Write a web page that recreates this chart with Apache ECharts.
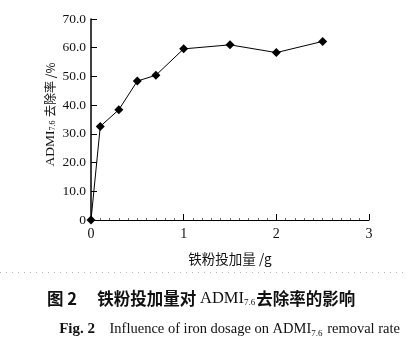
<!DOCTYPE html>
<html>
<head>
<meta charset="utf-8">
<script src="https://cdn.jsdelivr.net/npm/echarts@6/dist/echarts.min.js"></script>
<style>html,body{margin:0;padding:0;background:#fff;}#c{width:408px;height:348px;}</style>
</head>
<body>
<div id="c"></div>
<script>
var dosage = [0, 0.1, 0.3, 0.5, 0.7, 1.0, 1.5, 2.0, 2.5];
var removal = [0, 32.6, 38.4, 48.4, 50.4, 59.6, 61.0, 58.3, 62.2];
var yTicks = ['0', '10.0', '20.0', '30.0', '40.0', '50.0', '60.0', '70.0'];
var xTicks = ['0', '1', '2', '3'];

var serif = '"Liberation Serif","DejaVu Serif",serif';
var cjk = '"Noto Sans CJK SC",sans-serif';
var chart = echarts.init(document.getElementById('c'));
chart.setOption({
  animation: false,
  backgroundColor: '#fff',
  grid: {left: 91, right: 39, top: 19, bottom: 128},
  xAxis: {
    type: 'value', min: 0, max: 3, interval: 1,
    axisLine: {onZero: false, lineStyle: {color: '#000', width: 1}},
    axisTick: {inside: true, length: 6, lineStyle: {color: '#000'}},
    minorTick: {show: true, splitNumber: 10, length: 2, lineStyle: {color: '#666'}},
    splitLine: {show: false},
    axisLabel: {color: '#111', fontFamily: serif, fontSize: 14, margin: 7,
      formatter: function (v) { return xTicks[Math.round(v)]; }},
    name: '铁粉投加量 /g', nameLocation: 'middle', nameGap: 32,
    nameTextStyle: {color: '#111', fontFamily: cjk, fontSize: 13.5}
  },
  yAxis: {
    type: 'value', min: 0, max: 70, interval: 10,
    axisLine: {show: true, lineStyle: {color: '#000', width: 1.5}},
    axisTick: {inside: true, length: 6, lineStyle: {color: '#000'}},
    splitLine: {show: false},
    axisLabel: {color: '#111', fontFamily: serif, fontSize: 13.5, margin: 5,
      formatter: function (v) { return yTicks[Math.round(v / 10)]; }},
    name: '{a|ADMI}{s|7.6}{c| 去除率 /%}', nameLocation: 'middle', nameGap: 34, nameRotate: 90,
    nameMoveOverlap: false,
    nameTextStyle: {
      padding: [0, 0, 0, 10],
      rich: {
        a: {fontFamily: serif, fontSize: 13.5, color: '#111'},
        s: {fontFamily: serif, fontSize: 8, color: '#111', verticalAlign: 'bottom', padding: [6, 1, 0, 0]},
        c: {fontFamily: cjk, fontSize: 12, color: '#111'}
      }
    }
  },
  series: [{
    type: 'line',
    data: dosage.map(function (d, i) { return [d, removal[i]]; }),
    symbol: 'diamond', symbolSize: 9,
    itemStyle: {color: '#000'},
    lineStyle: {color: '#000', width: 1}
  }],
  graphic: [
    {type: 'line', shape: {x1: 0, y1: 272.5, x2: 408, y2: 272.5},
      style: {stroke: '#bbb', lineWidth: 1, lineDash: [1, 5]}},
    {type: 'text', left: 47, top: 290,
      style: {text: '{b|图 2}{c|　 铁粉投加量对 }{a|ADMI}{s|7.6}{c|去除率的影响}',
        rich: {
          b: {fontFamily: cjk, fontWeight: 'bold', fontSize: 16.5, fill: '#111'},
          c: {fontFamily: cjk, fontWeight: 'bold', fontSize: 16.5, fill: '#111'},
          a: {fontFamily: serif, fontSize: 16.5, fill: '#111'},
          s: {fontFamily: serif, fontSize: 9, fill: '#111', padding: [9, 1, 0, 0]}
        }}},
    {type: 'text', right: 8, top: 322,
      style: {text: '{b|Fig. 2}{a|    Influence of iron dosage on ADMI}{s|7.6}{a| removal rate}',
        rich: {
          b: {fontFamily: serif, fontWeight: 'bold', fontSize: 15, fill: '#111'},
          a: {fontFamily: serif, fontSize: 14.5, fill: '#111'},
          s: {fontFamily: serif, fontSize: 9, fill: '#111', padding: [8, 1, 0, 0]}
        }}}
  ]
});
</script>
</body>
</html>
